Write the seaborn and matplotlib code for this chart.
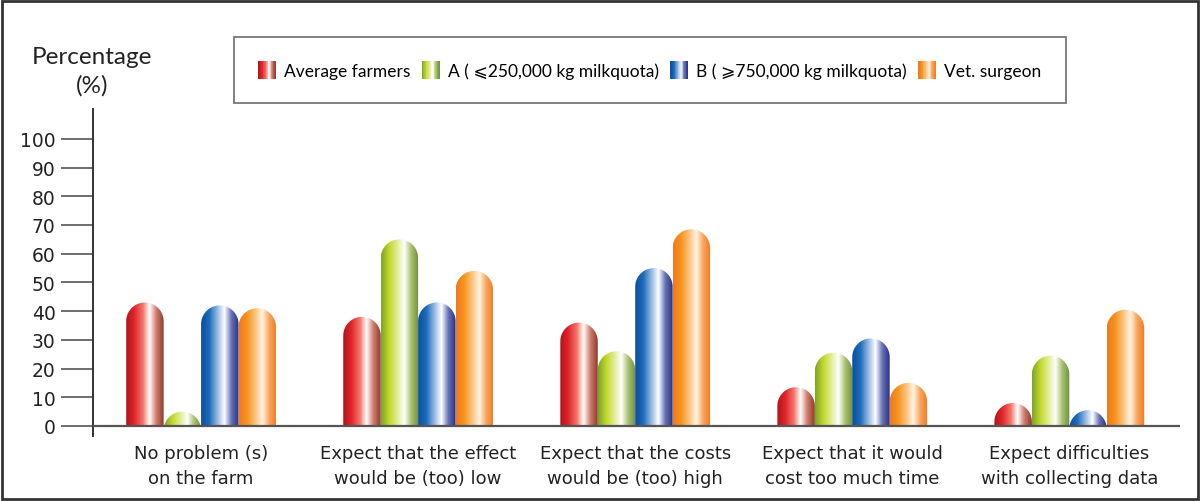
import numpy as np
import pandas as pd
import matplotlib
matplotlib.use("Agg")
import matplotlib.pyplot as plt
import matplotlib.path as mpath
from matplotlib.patches import PathPatch, Rectangle, Patch
from matplotlib.colors import LinearSegmentedColormap
from matplotlib.legend_handler import HandlerBase
import seaborn as sns

# --- data ---
reasons = ["No problem (s)\non the farm",
           "Expect that the effect\nwould be (too) low",
           "Expect that the costs\nwould be (too) high",
           "Expect that it would\ncost too much time",
           "Expect difficulties\nwith collecting data"]
groups = ["Average farmers", "A ( \u2a7d250,000 kg milkquota)",
          "B ( \u2a7e750,000 kg milkquota)", "Vet. surgeon"]
average_farmers = [43, 38, 36, 13.5, 8]
group_a = [5, 65, 26, 25.5, 24.5]
group_b = [42, 43, 55, 30.5, 5.5]
vet_surgeon = [41, 54, 68.5, 15, 40.5]

df = pd.DataFrame({
    "reason": reasons * 4,
    "group": np.repeat(groups, len(reasons)),
    "pct": average_farmers + group_a + group_b + vet_surgeon,
})

# cylinder-like gradients, left edge -> right edge
stops = [0, 0.22, 0.45, 0.62, 0.8, 1.0]
grad_cols = [
    ["#b0121a", "#e2252b", "#f2786c", "#ffffff", "#d27c6c", "#8a3a2e"],
    ["#7aa328", "#c3d82d", "#e4eea0", "#ffffff", "#a7c06a", "#6d8d45"],
    ["#0a4f9c", "#1c6cbb", "#a0bfe4", "#ffffff", "#6673b6", "#2a2e84"],
    ["#ef781d", "#f7951f", "#fcc88a", "#fff4e2", "#f9a35a", "#ef7a20"],
]
cmaps = [LinearSegmentedColormap.from_list("g%d" % i, list(zip(stops, c)))
         for i, c in enumerate(grad_cols)]

W, H = 1200, 502
fig = plt.figure(figsize=(12, 5.02), dpi=100)
ax = fig.add_axes([93 / W, 1 - 437 / H, (1180 - 93) / W, (437 - 110) / H])
plt.rcParams["font.family"] = ["Lato", "DejaVu Sans"]

sns.barplot(data=df, x="reason", y="pct", hue="group", width=0.69,
            palette=[c[1] for c in grad_cols], legend=False, ax=ax,
            errorbar=None)

xlim = (-0.498, 4.51)
ylim = (-3.5, 110.4)
ax.set_xlim(*xlim)
ax.set_ylim(*ylim)

# pixel scale to keep the rounded caps circular
p0 = ax.transData.transform((0, 0))
p1 = ax.transData.transform((1, 1))
pxx, pxy = p1[0] - p0[0], p1[1] - p0[1]

grad = np.linspace(0, 1, 256).reshape(1, -1)
for cont, cmap in zip(ax.containers, cmaps):
    for bar in cont:
        x0, w, h = bar.get_x(), bar.get_width(), bar.get_height()
        bar.set_visible(False)
        rx = w / 2
        ry = rx * pxx / pxy
        cx = x0 + rx
        th = np.linspace(0, np.pi, 80)
        tx = cx + rx * np.cos(th)
        ty = np.maximum(h - ry + ry * np.sin(th), 0)
        verts = [(x0 + w, 0)] + list(zip(tx, ty)) + [(x0, 0), (x0 + w, 0)]
        codes = [mpath.Path.MOVETO] + [mpath.Path.LINETO] * (len(verts) - 2) + [mpath.Path.CLOSEPOLY]
        clip = PathPatch(mpath.Path(verts, codes), facecolor="none", edgecolor="none")
        ax.add_patch(clip)
        im = ax.imshow(grad, cmap=cmap, extent=(x0, x0 + w, 0, h), aspect="auto",
                       interpolation="bilinear", zorder=2)
        im.set_clip_path(clip)

ax.set_xlim(*xlim)
ax.set_ylim(*ylim)

ax.axhline(0, color="#555555", lw=1.6, zorder=3)
for s in ["top", "right", "bottom"]:
    ax.spines[s].set_visible(False)
ax.spines["left"].set_color("#333333")
ax.spines["left"].set_linewidth(1.4)

ax.set_yticks(range(0, 101, 10))
ax.tick_params(axis="y", length=23, width=1.2, color="#555555", pad=4,
               labelsize=13.5, labelcolor="#222222")
ax.tick_params(axis="x", length=0, pad=6, labelsize=13, labelcolor="#222222")
for lab in ax.get_xticklabels():
    lab.set_linespacing(1.45)
ax.set_xlabel("")
ax.set_ylabel("")
ax.set_facecolor("white")

fig.text(92 / W, 1 - 57 / H, "Percentage", ha="center", va="center", fontsize=17.5, color="#222222")
fig.text(92 / W, 1 - 86 / H, "(%)", ha="center", va="center", fontsize=17.5, color="#222222")


class GradHandler(HandlerBase):
    def __init__(self, cmap):
        super().__init__()
        self.cmap = cmap

    def create_artists(self, legend, orig_handle, xdescent, ydescent, width, height, fontsize, trans):
        n = 24
        arts = []
        for k in range(n):
            r = Rectangle((-xdescent + width * k / n, -ydescent), width / n + 0.3, height,
                          facecolor=self.cmap((k + 0.5) / n), edgecolor="none", transform=trans)
            arts.append(r)
        return arts


handles = [Patch(label=g) for g in groups]
hmap = {h: GradHandler(c) for h, c in zip(handles, cmaps)}
leg = fig.legend(handles=handles, handler_map=hmap, ncol=4, mode="expand",
                 bbox_to_anchor=(234 / W, 1 - 100 / H, (1066 - 234) / W, 58 / H),
                 loc="center", fontsize=12.5, frameon=True, fancybox=False,
                 borderpad=1.4, handlelength=1.0, handleheight=1.2, handletextpad=0.5,
                 columnspacing=1.0, borderaxespad=0)
leg.get_frame().set_edgecolor("#555555")
leg.get_frame().set_linewidth(1.3)

fig.patches.append(Rectangle((2 / W, 2 / H), 1 - 4 / W, 1 - 4 / H, transform=fig.transFigure,
                             fill=False, edgecolor="#333333", lw=2))

fig.savefig("out.png", dpi=100, facecolor="white")
